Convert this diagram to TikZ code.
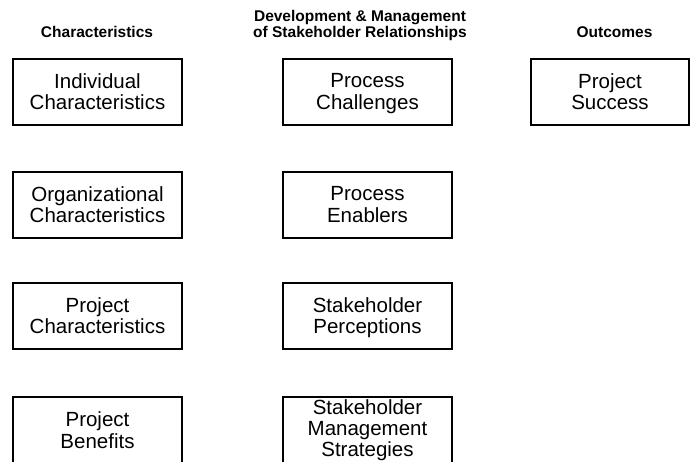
\documentclass[tikz,border=0pt]{standalone}
\usepackage{fontspec}
\setmainfont{Liberation Sans}
\begin{document}
\begin{tikzpicture}[x=1pt,y=-1pt,
  box/.style={draw=black, line width=2pt, minimum width=169pt, minimum height=66pt,
    inner sep=0pt, align=center, text depth=0pt, font=\fontsize{20.5}{21.5}\selectfont},
  head/.style={font=\fontsize{15.5}{15.5}\selectfont\bfseries, align=center, inner sep=0pt}]
\useasboundingbox (0,0) rectangle (690,461);
\clip (0,0) rectangle (690,461);
\fill[white] (0,0) rectangle (690,461);
% headings
\node[head, anchor=base] (h1) at (97,37.5) {Characteristics};
\node[head, anchor=south] (h2) at (360,40.8) {Development \& Management\\of Stakeholder Relationships};
\node[head, anchor=base] (h3) at (614.5,37.5) {Outcomes};
% column 1
\node[box] (ic) at (97.5,91.5) {Individual\\Characteristics};
\node[box] (oc) at (97.5,204.5) {Organizational\\Characteristics};
\node[box] (pc) at (97.5,315.5) {Project\\Characteristics};
\node[box] (pb) at (97.5,430) {Project\\Benefits};
% column 2
\node[box] (pch) at (367.5,91.5) {Process\\Challenges};
\node[box] (pe) at (367.5,204.5) {Process\\Enablers};
\node[box] (sp) at (367.5,315.5) {Stakeholder\\Perceptions};
\node[box, text depth=3.5pt, font=\fontsize{20.5}{21}\selectfont] (sms) at (367.5,430) {Stakeholder\\Management\\Strategies};
% column 3
\node[box, minimum width=158pt] (ps) at (610,91.5) {Project\\Success};
\end{tikzpicture}
\end{document}
